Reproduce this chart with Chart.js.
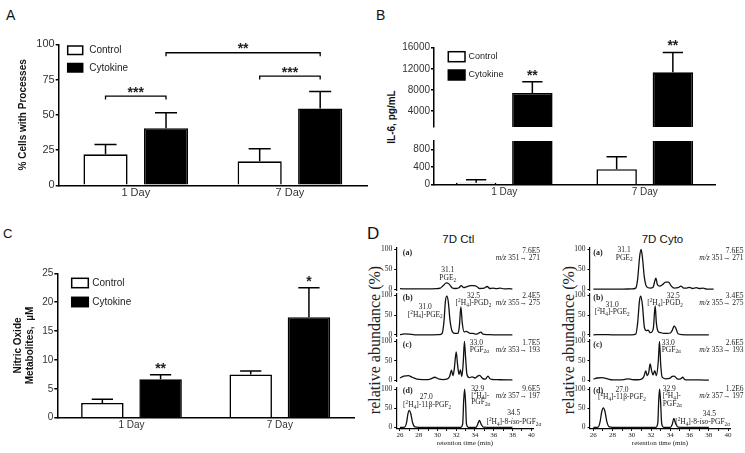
<!DOCTYPE html>
<html>
<head>
<meta charset="utf-8">
<script src="https://cdn.jsdelivr.net/npm/chart.js@4.4.1/dist/chart.umd.min.js"></script>
<style>
  html, body { margin: 0; padding: 0; background: #fff; }
  #page { position: relative; width: 745px; height: 453px; overflow: hidden; font-family: "Liberation Sans", Arial, sans-serif; }
  canvas { position: absolute; }
  .lbl { position: absolute; line-height: 1; color: #111; white-space: nowrap; }
  .rot { transform: translate(-50%, -50%) rotate(-90deg); }
  .serif { font-family: "Liberation Serif", "Times New Roman", serif; color: #222; }
</style>
</head>
<body>
<div id="page">
  <div class="lbl" style="left:6px;top:8px;font-size:14px">A</div>
  <div class="lbl" style="left:376px;top:8px;font-size:14px">B</div>
  <div class="lbl" style="left:3px;top:226.5px;font-size:13px">C</div>
  <div class="lbl" style="left:367px;top:224.5px;font-size:17px">D</div>
  <div class="lbl rot" style="left:391.7px;top:116.5px;font-size:10px;font-weight:bold">IL-6, pg/mL</div>
  <div class="lbl" style="left:408.3px;top:233.5px;width:100px;text-align:center;font-size:11.5px">7D Ctl</div>
  <div class="lbl" style="left:612.5px;top:233.5px;width:100px;text-align:center;font-size:11.5px">7D Cyto</div>
  <div class="lbl rot serif" style="left:375px;top:340px;font-size:16px">relative abundance (%)</div>
  <div class="lbl rot serif" style="left:569px;top:340px;font-size:16px">relative abundance (%)</div>

  <canvas id="chartA" width="372" height="215" style="left:0;top:0"></canvas>
  <canvas id="chartBHigh" width="375" height="134" style="left:370px;top:0"></canvas>
  <canvas id="chartBLow" width="375" height="80" style="left:370px;top:134px"></canvas>
  <canvas id="chartC" width="365" height="228" style="left:0;top:225px"></canvas>
</div>
<script>
const SANS = 'Liberation Sans';
const SERIF = 'Liberation Serif';

// shared categories
const days = ['1 Day', '7 Day'];
const seriesNames = ['Control', 'Cytokine'];

// A: % cells with processes (mean, SEM)
const cellsCtrl = [22, 17];
const cellsCtrlSem = [7, 9];
const cellsCyto = [40.5, 54.5];
const cellsCytoSem = [11, 12];
const cellsTicks = [0, 25, 50, 75, 100];

// B: IL-6, pg/mL (broken axis)
const il6Ctrl = [45, 355];
const il6CtrlSem = [70, 285];
const il6Cyto = [7450, 11350];
const il6CytoSem = [2100, 3750];
const il6TicksHigh = [4000, 8000, 12000, 16000];
const il6TicksLow = [0, 400, 800];

// C: nitric oxide metabolites, uM
const noCtrl = [2.55, 7.5];
const noCtrlSem = [0.65, 0.6];
const noCyto = [6.65, 17.4];
const noCytoSem = [0.8, 5.1];
const noTicks = [0, 5, 10, 15, 20, 25];

// D: chromatograms, [retention time (min), relative abundance (%)]
const ctlA = [[26.0, 1.5], [27.0, 1], [28.0, 1], [29.0, 1], [29.8, 1.5], [30.3, 3], [30.6, 9], [30.95, 16], [31.25, 13], [31.55, 4], [31.9, 2], [32.3, 4], [32.55, 9], [32.8, 4], [33.1, 6], [33.5, 9], [33.9, 9], [34.2, 7], [34.5, 2], [35.0, 3], [35.3, 7], [35.6, 2], [35.9, 3], [36.3, 1.5], [36.7, 3], [37.1, 1], [37.6, 1.5], [38.0, 0.5]];
const ctlB = [[26.0, 1], [26.5, 3], [27.0, 2], [27.6, 0.5], [28.5, 0.5], [29.5, 0.5], [30.2, 0.8], [30.5, 4], [30.7, 35], [30.85, 85], [31.0, 98], [31.15, 85], [31.35, 35], [31.6, 8], [31.9, 4], [32.2, 4], [32.35, 25], [32.5, 71], [32.65, 30], [32.85, 8], [33.1, 9], [33.4, 5], [33.8, 4], [34.2, 2], [34.5, 6], [34.65, 7], [34.85, 2], [35.3, 1], [36.0, 0.5], [38.0, 0.5]];
const ctlC = [[26.0, 6], [26.4, 11], [26.9, 12], [27.3, 8], [27.8, 3], [28.4, 2], [29.0, 2], [29.4, 5], [29.7, 8], [30.1, 4], [30.6, 2], [31.0, 3], [31.3, 10], [31.5, 26], [31.65, 12], [31.8, 30], [32.0, 73], [32.15, 40], [32.3, 15], [32.45, 27], [32.6, 10], [32.75, 45], [32.88, 100], [33.0, 60], [33.15, 15], [33.4, 7], [33.7, 9], [34.0, 6], [34.3, 11], [34.5, 13], [34.8, 5], [35.1, 3], [35.4, 11], [35.6, 4], [36.0, 2], [36.6, 1.5], [38.0, 1]];
const ctlD = [[26.0, 0], [26.5, 0.5], [26.7, 12], [26.85, 35], [27.0, 44], [27.15, 36], [27.35, 12], [27.6, 1], [28.0, 0], [32.5, 0], [32.7, 10], [32.8, 70], [32.9, 100], [33.0, 65], [33.1, 8], [33.3, 0], [34.1, 0], [34.3, 8], [34.47, 18], [34.65, 9], [34.9, 0.5], [36.0, 0], [38.0, 0]];
const cytoA = [[26.0, 0.5], [27.0, 0.5], [28.0, 0.5], [29.0, 0.5], [30.0, 1], [30.4, 3], [30.6, 25], [30.8, 80], [30.96, 100], [31.1, 80], [31.3, 30], [31.55, 6], [31.9, 3], [32.2, 5], [32.4, 22], [32.5, 28], [32.65, 12], [32.9, 8], [33.2, 12], [33.5, 18], [33.8, 18], [34.1, 8], [34.4, 3], [34.8, 4], [35.1, 8], [35.4, 3], [35.7, 3], [36.0, 5], [36.3, 2], [36.7, 4], [37.0, 2], [37.4, 3], [37.8, 0.5], [38.5, 0.5]];
const cytoB = [[26.0, 0.5], [27.0, 1], [28.0, 0.5], [29.0, 0.5], [30.0, 0.5], [30.4, 2], [30.6, 30], [30.8, 88], [30.93, 98], [31.1, 75], [31.3, 20], [31.5, 11], [31.7, 12], [31.9, 6], [32.1, 8], [32.25, 20], [32.42, 73], [32.55, 30], [32.75, 8], [33.0, 6], [33.3, 4], [33.7, 4], [34.0, 5], [34.2, 12], [34.4, 23], [34.6, 15], [34.8, 3], [35.2, 1], [36.0, 0.5], [38.0, 0.5]];
const cytoC = [[26.0, 3], [26.4, 6], [26.9, 7], [27.3, 5], [27.8, 1.5], [28.5, 1], [29.2, 2], [29.6, 4], [30.0, 2], [30.6, 1.5], [31.0, 3], [31.25, 10], [31.45, 24], [31.6, 12], [31.75, 20], [31.9, 42], [32.05, 25], [32.2, 14], [32.38, 25], [32.55, 12], [32.75, 50], [32.87, 100], [33.0, 40], [33.15, 8], [33.5, 4], [33.9, 5], [34.2, 10], [34.4, 11], [34.7, 4], [35.0, 3], [35.3, 8], [35.5, 2], [36.0, 1], [37.0, 1], [38.0, 0.5]];
const cytoD = [[26.0, 0], [26.5, 0.5], [26.7, 15], [26.88, 42], [27.04, 51], [27.2, 42], [27.4, 15], [27.65, 1], [28.0, 0], [32.5, 0], [32.7, 12], [32.8, 75], [32.88, 100], [32.98, 70], [33.1, 10], [33.3, 0], [34.0, 0], [34.2, 8], [34.36, 23], [34.55, 10], [34.8, 0.5], [36.0, 0], [38.0, 0]];
const rtTicks = [26, 27, 28, 29, 30, 31, 32, 33, 34, 35, 36, 37, 38, 39, 40];
const abundTicks = [0, 25, 50, 75, 100];

// peak annotations (t = retention time, v = abundance level; no t = right edge)
const ctlNotes = [
  [{t: 26.3, v: 91, s: '(a)', al: 'left', b: 1}, {t: 31.1, v: 48, s: '31.1'}, {t: 31.1, v: 28, s: 'PGE_{2}'},
   {v: 95, s: '7.6E5'}, {v: 78, s: '~{m/z} 351→ 271'}],
  [{t: 26.3, v: 93, s: '(b)', al: 'left', b: 1}, {t: 28.7, v: 71, s: '31.0'}, {t: 28.7, v: 51, s: '[^{2}H_{4}]-PGE_{2}'},
   {t: 33.85, v: 99, s: '32.5'}, {t: 33.85, v: 80, s: '[^{2}H_{4}]-PGD_{2}'}, {v: 99, s: '2.4E5'}, {v: 80, s: '~{m/z} 355→ 275'}],
  [{t: 26.3, v: 91, s: '(c)', al: 'left', b: 1}, {t: 33.45, v: 97, s: '33.0', al: 'left'}, {t: 33.45, v: 79, s: 'PGF_{2α}', al: 'left'},
   {v: 97, s: '1.7E5'}, {v: 79, s: '~{m/z} 353→ 193'}],
  [{t: 26.3, v: 94, s: '(d)', al: 'left', b: 1}, {t: 28.8, v: 78, s: '27.0'}, {t: 28.9, v: 57, s: '[^{2}H_{4}]-11β-PGF_{2}'},
   {t: 33.6, v: 100, s: '32.9', al: 'left'}, {t: 33.6, v: 83, s: '[^{2}H_{4}]-', al: 'left'}, {t: 33.6, v: 66, s: 'PGF_{2α}', al: 'left'},
   {t: 38.15, v: 36, s: '34.5'}, {t: 38.15, v: 14, s: '[^{2}H_{4}]-8-~{iso}-PGF_{2α}'}, {v: 100, s: '9.6E5'}, {v: 83, s: '~{m/z} 357→ 197'}]
];
const cytoNotes = [
  [{t: 26.0, v: 91, s: '(a)', al: 'left', b: 1}, {t: 29.2, v: 98, s: '31.1'}, {t: 29.2, v: 79, s: 'PGE_{2}'},
   {v: 95, s: '7.6E5'}, {v: 78, s: '~{m/z} 351→ 271'}],
  [{t: 26.0, v: 93, s: '(b)', al: 'left', b: 1}, {t: 27.95, v: 76, s: '31.0'}, {t: 27.95, v: 57, s: '[^{2}H_{4}]-PGE_{2}'},
   {t: 34.3, v: 99, s: '32.5'}, {t: 33.45, v: 80, s: '[^{2}H_{4}]-PGD_{2}'}, {v: 99, s: '3.4E5'}, {v: 80, s: '~{m/z} 355→ 275'}],
  [{t: 26.0, v: 91, s: '(c)', al: 'left', b: 1}, {t: 33.1, v: 97, s: '33.0', al: 'left'}, {t: 33.1, v: 79, s: 'PGF_{2α}', al: 'left'},
   {v: 97, s: '2.6E5'}, {v: 79, s: '~{m/z} 353→ 193'}],
  [{t: 26.0, v: 94, s: '(d)', al: 'left', b: 1}, {t: 28.97, v: 98, s: '27.0'}, {t: 28.97, v: 78, s: '[^{2}H_{4}]-11β-PGF_{2}'},
   {t: 33.2, v: 100, s: '32.9', al: 'left'}, {t: 33.2, v: 82, s: '[^{2}H_{4}]-', al: 'left'}, {t: 33.2, v: 62, s: 'PGF_{2α}', al: 'left'},
   {t: 38.05, v: 35, s: '34.5'}, {t: 37.35, v: 14, s: '[^{2}H_{4}]-8-~{iso}-PGF_{2α}'}, {v: 100, s: '1.2E6'}, {v: 82, s: '~{m/z} 357→ 197'}]
];

// draw text with ^{sup}, _{sub}, ~{italic}
function richText(ctx, str, x, y, size, align, bold) {
  const parts = [];
  const re = /([_^~])\{([^}]*)\}|([^_^~]+)/g;
  let m;
  while ((m = re.exec(str))) parts.push(m[3] ? {t: m[3], k: ''} : {t: m[2], k: m[1]});
  const fontFor = p => (p.k === '~' ? 'italic ' : '') + (bold ? 'bold ' : '') +
    ((p.k === '_' || p.k === '^') ? size * 0.7 : size) + 'px "' + SERIF + '"';
  let w = 0;
  parts.forEach(p => { ctx.font = fontFor(p); p.w = ctx.measureText(p.t).width; w += p.w; });
  let cx = align === 'center' ? x - w / 2 : align === 'right' ? x - w : x;
  ctx.textAlign = 'left';
  ctx.textBaseline = 'middle';
  parts.forEach(p => {
    ctx.font = fontFor(p);
    const dy = p.k === '_' ? size * 0.3 : p.k === '^' ? -size * 0.35 : 0;
    ctx.fillText(p.t, cx, y + dy);
    cx += p.w;
  });
}

// upward SEM whiskers
const errorBars = {
  id: 'errorBars',
  afterDatasetsDraw(chart) {
    const {ctx, chartArea: a, scales: {y}} = chart;
    ctx.save();
    ctx.beginPath();
    ctx.rect(a.left, a.top, a.right - a.left, a.bottom - a.top);
    ctx.clip();
    ctx.strokeStyle = '#000';
    ctx.lineWidth = 1.5;
    chart.data.datasets.forEach((ds, di) => {
      chart.getDatasetMeta(di).data.forEach((bar, i) => {
        const top = y.getPixelForValue(ds.data[i] + ds.sem[i]);
        const half = bar.width * 0.25;
        ctx.beginPath();
        ctx.moveTo(bar.x, bar.y);
        ctx.lineTo(bar.x, top);
        ctx.moveTo(bar.x - half, top);
        ctx.lineTo(bar.x + half, top);
        ctx.stroke();
      });
    });
    ctx.restore();
  }
};

// boxed legend inside the plot
const boxLegend = {
  id: 'boxLegend',
  afterDraw(chart, args, o) {
    if (o.x === undefined) return;
    const ctx = chart.ctx;
    ctx.save();
    chart.data.datasets.forEach((ds, i) => {
      const y = o.y + i * o.gap;
      ctx.fillStyle = ds.backgroundColor;
      ctx.fillRect(o.x, y, o.w, o.h);
      ctx.lineWidth = 1.5;
      ctx.strokeStyle = '#000';
      ctx.strokeRect(o.x, y, o.w, o.h);
      ctx.fillStyle = '#222';
      ctx.font = o.size + 'px "' + SANS + '"';
      ctx.textAlign = 'left';
      ctx.textBaseline = 'middle';
      ctx.fillText(ds.label, o.x + o.w + o.pad, y + o.h / 2);
    });
    ctx.restore();
  }
};

// significance brackets and stars
const sigMarks = {
  id: 'sigMarks',
  afterDraw(chart, args, o) {
    const {ctx, scales: {y}} = chart;
    const barAt = ([d, i]) => chart.getDatasetMeta(d).data[i];
    ctx.save();
    ctx.strokeStyle = '#000';
    ctx.lineWidth = 1.3;
    ctx.fillStyle = '#222';
    ctx.font = 'bold 14px "' + SANS + '"';
    ctx.textAlign = 'center';
    ctx.textBaseline = 'alphabetic';
    (o.brackets || []).forEach(b => {
      const x1 = barAt(b.from).x, x2 = barAt(b.to).x, yy = y.getPixelForValue(b.v);
      ctx.beginPath();
      ctx.moveTo(x1, yy + 3.5);
      ctx.lineTo(x1, yy);
      ctx.lineTo(x2, yy);
      ctx.lineTo(x2, yy + 3.5);
      ctx.stroke();
      ctx.fillText(b.text, (x1 + x2) / 2, yy + 0.5);
    });
    (o.stars || []).forEach(s => {
      const ds = chart.data.datasets[s.at[0]];
      const top = ds.data[s.at[1]] + ds.sem[s.at[1]];
      ctx.fillText(s.text, barAt(s.at).x, y.getPixelForValue(top) - 2);
    });
    ctx.restore();
  }
};

// chromatogram labels
const peakNotes = {
  id: 'peakNotes',
  afterDraw(chart, args, o) {
    const {ctx, scales: {x, y}} = chart;
    ctx.save();
    ctx.fillStyle = '#222';
    (o.items || []).forEach(n => {
      const edge = n.t === undefined;
      const px = edge ? chart.width - o.edge : x.getPixelForValue(n.t);
      richText(ctx, n.s, px, y.getPixelForValue(n.v), n.b ? 8 : 7.5, edge ? 'right' : (n.al || 'center'), n.b);
    });
    ctx.restore();
  }
};

function barChart(id, c) {
  const showX = c.xH !== undefined;
  return new Chart(document.getElementById(id), {
    type: 'bar',
    data: {
      labels: days,
      datasets: [
        {label: seriesNames[0], data: c.ctrl, sem: c.ctrlSem, backgroundColor: '#fff', borderColor: '#000', borderWidth: 1.6,
         categoryPercentage: c.cat, barPercentage: c.bar},
        {label: seriesNames[1], data: c.cyto, sem: c.cytoSem, backgroundColor: '#000', borderColor: '#000', borderWidth: 1.6,
         categoryPercentage: c.cat, barPercentage: c.bar}
      ]
    },
    options: {
      responsive: false,
      animation: false,
      layout: {padding: c.pad},
      plugins: {
        legend: {display: false},
        tooltip: {enabled: false},
        boxLegend: c.legend || {},
        sigMarks: c.marks || {}
      },
      scales: {
        x: {
          display: showX,
          grid: {display: false, drawTicks: false},
          border: {color: '#000', width: 1.5},
          ticks: {color: '#333', font: {family: SANS, size: c.xFont || 10}, padding: 1.5},
          afterFit: s => { if (showX) s.height = c.xH; }
        },
        y: {
          min: c.min,
          max: c.max,
          afterBuildTicks: s => { s.ticks = c.ticks.map(value => ({value})); },
          grid: {drawOnChartArea: false, drawTicks: true, tickLength: 3, color: '#000', lineWidth: 1.5},
          border: {color: '#000', width: 1.5},
          ticks: {color: '#333', font: {family: SANS, size: c.yFont}, padding: 1, callback: v => String(v)},
          title: c.title ? {display: true, text: c.title, color: '#111',
            font: {family: SANS, size: 10, weight: 'bold'}, padding: {top: c.titlePad, bottom: 0}} : {display: false},
          afterFit: s => { s.width = c.yW; }
        }
      }
    },
    plugins: [errorBars, boxLegend, sigMarks]
  });
}

// A
barChart('chartA', {
  ctrl: cellsCtrl, ctrlSem: cellsCtrlSem, cyto: cellsCyto, cytoSem: cellsCytoSem,
  min: 0, max: 100, ticks: cellsTicks, cat: 0.785, bar: 0.73,
  pad: {top: 44.3, right: 5, bottom: 0, left: 0}, yW: 58.7, xH: 29.7, xFont: 11, yFont: 11,
  title: '% Cells with Processes', titlePad: 17,
  legend: {x: 67.7, y: 46, w: 15, h: 8.5, gap: 17.5, pad: 6.5, size: 10},
  marks: {
    brackets: [
      {from: [0, 0], to: [1, 0], v: 63.3, text: '***'},
      {from: [1, 0], to: [1, 1], v: 94, text: '**'},
      {from: [0, 1], to: [1, 1], v: 77.5, text: '***'}
    ]
  }
});

// B upper segment
barChart('chartBHigh', {
  ctrl: il6Ctrl, ctrlSem: il6CtrlSem, cyto: il6Cyto, cytoSem: il6CytoSem,
  min: 1000, max: 16000, ticks: il6TicksHigh, cat: 0.8, bar: 0.72,
  pad: {top: 47.7, right: 30, bottom: 1, left: 0}, yW: 64, yFont: 10,
  legend: {x: 78.3, y: 51.7, w: 16.7, h: 10, gap: 18.3, pad: 3.5, size: 9},
  marks: {stars: [{at: [1, 0], text: '**'}, {at: [1, 1], text: '**'}]}
});

// B lower segment
barChart('chartBLow', {
  ctrl: il6Ctrl, ctrlSem: il6CtrlSem, cyto: il6Cyto, cytoSem: il6CytoSem,
  min: 0, max: 1000, ticks: il6TicksLow, cat: 0.8, bar: 0.72,
  pad: {top: 4, right: 30, bottom: 0, left: 0}, yW: 64, xH: 29.3, xFont: 10, yFont: 10
});

// C
barChart('chartC', {
  ctrl: noCtrl, ctrlSem: noCtrlSem, cyto: noCyto, cytoSem: noCytoSem,
  min: 0, max: 25, ticks: noTicks, cat: 0.785, bar: 0.73,
  pad: {top: 48.3, right: 11, bottom: 0, left: 0}, yW: 57.3, xH: 35.3, xFont: 10, yFont: 10,
  title: ['Nitric Oxide', 'Metabolites,  µM'], titlePad: 12,
  legend: {x: 71.7, y: 53.3, w: 16.6, h: 9.4, gap: 19, pad: 4, size: 10},
  marks: {stars: [{at: [1, 0], text: '**'}, {at: [1, 1], text: '*'}]}
});

// D: eight stacked chromatograms
const rowLevels = [[249.5, 289.3], [295.3, 335], [341.5, 380.7], [389, 427.3]];
const columns = [
  {left: 360, width: 185, yW: 36.7, padR: 12, edge: 5, traces: [ctlA, ctlB, ctlC, ctlD], notes: ctlNotes},
  {left: 555, width: 190, yW: 35, padR: 15, edge: 1.5, traces: [cytoA, cytoB, cytoC, cytoD], notes: cytoNotes}
];
const page = document.getElementById('page');

columns.forEach(col => col.traces.forEach((trace, r) => {
  const [y100, y0] = rowLevels[r];
  const k = (y0 - y100) / 100;
  const areaTop = y100 - 4 * k, areaBottom = y0 + 3 * k;
  const last = r === 3;
  const top = Math.floor(areaTop - 6);
  const height = last ? 453 - top : Math.ceil(areaBottom + 6) - top;
  const cv = document.createElement('canvas');
  cv.width = col.width;
  cv.height = height;
  cv.style.left = col.left + 'px';
  cv.style.top = top + 'px';
  page.appendChild(cv);

  new Chart(cv, {
    type: 'line',
    data: {
      datasets: [{
        data: trace.map(([x, y]) => ({x, y})),
        borderColor: '#111', borderWidth: 1.3, pointRadius: 0,
        cubicInterpolationMode: 'monotone', fill: false
      }]
    },
    options: {
      responsive: false,
      animation: false,
      layout: {padding: {top: areaTop - top, right: col.padR, left: 0, bottom: last ? 0 : top + height - areaBottom}},
      plugins: {
        legend: {display: false},
        tooltip: {enabled: false},
        peakNotes: {items: col.notes[r], edge: col.edge}
      },
      scales: {
        x: {
          type: 'linear', min: 25.65, max: 40.2, display: last,
          afterBuildTicks: s => { s.ticks = rtTicks.map(value => ({value})); },
          grid: {drawOnChartArea: false, drawTicks: true, tickLength: 2.5, color: '#000', lineWidth: 1},
          border: {color: '#000', width: 1.2},
          ticks: {callback: v => v % 2 === 0 ? v : '', color: '#222', font: {family: SERIF, size: 7},
            padding: 0, maxRotation: 0, autoSkip: false},
          title: {display: true, text: 'retention time (min)', color: '#222',
            font: {family: SERIF, size: 7}, padding: {top: 0, bottom: 5.5}},
          afterFit: s => { if (last) s.height = 453 - areaBottom; }
        },
        y: {
          min: -3, max: 104,
          afterBuildTicks: s => { s.ticks = abundTicks.map(value => ({value})); },
          grid: {drawOnChartArea: false, drawTicks: true, tickLength: 2.5, color: '#000', lineWidth: 1},
          border: {color: '#000', width: 1.2},
          ticks: {callback: v => v % 50 === 0 ? v : '', color: '#222', font: {family: SERIF, size: 7.5}, padding: 2},
          afterFit: s => { s.width = col.yW; }
        }
      }
    },
    plugins: [peakNotes]
  });
}));
</script>
</body>
</html>
